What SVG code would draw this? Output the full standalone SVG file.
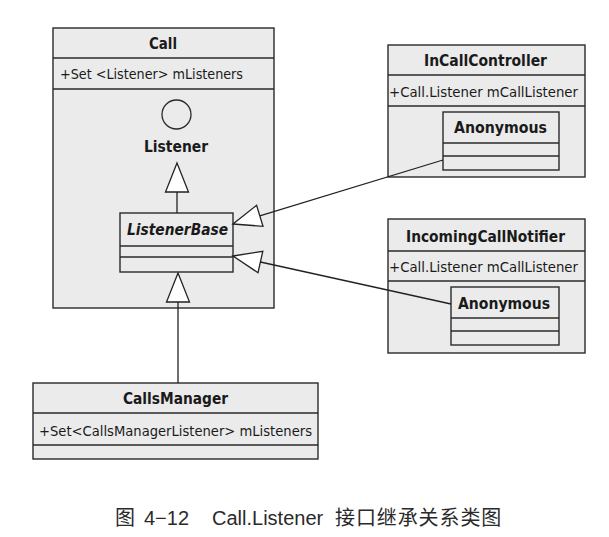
<svg xmlns="http://www.w3.org/2000/svg" width="609" height="537" viewBox="0 0 609 537">
<style>
.box{fill:#ebebeb;stroke:#2a2a2a;stroke-width:1.4}
.div{stroke:#2a2a2a;stroke-width:1.4;fill:none}
.t{font-family:"DejaVu Sans Condensed","DejaVu Sans",sans-serif;font-weight:bold;font-size:16px;fill:#1a1a1a}
.a{font-family:"DejaVu Sans Condensed","DejaVu Sans",sans-serif;font-size:14.5px;fill:#1a1a1a}
.ln{stroke:#222;stroke-width:1.3;fill:none}
.tri{fill:#fff;stroke:#222;stroke-width:1.3}
.cap{font-family:"Liberation Sans","Noto Sans CJK SC",sans-serif;font-size:20px;fill:#2a2a2a}
</style>
<rect width="609" height="537" fill="#fff"/>
<g id="Call">
<rect class="box" x="53" y="28" width="221" height="280"/>
<line class="div" x1="53" y1="58" x2="274" y2="58"/>
<line class="div" x1="53" y1="89" x2="274" y2="89"/>
<text class="t" x="149" y="49" textLength="28" lengthAdjust="spacingAndGlyphs">Call</text>
<text class="a" x="60" y="79" textLength="183" lengthAdjust="spacingAndGlyphs">+Set &lt;Listener&gt; mListeners</text>
</g>
<g id="Listener">
<circle cx="176.5" cy="114.5" r="14.5" fill="none" stroke="#2a2a2a" stroke-width="1.3"/>
<text class="t" x="144" y="152" textLength="64" lengthAdjust="spacingAndGlyphs">Listener</text>
</g>
<g id="ListenerBase">
<rect class="box" x="120" y="213" width="113" height="59"/>
<line class="div" x1="120" y1="246" x2="233" y2="246"/>
<line class="div" x1="120" y1="257" x2="233" y2="257"/>
<text class="t" x="127" y="235" font-style="italic" textLength="101" lengthAdjust="spacingAndGlyphs">ListenerBase</text>
</g>
<g id="InCallController">
<rect class="box" x="388" y="45" width="197" height="132"/>
<line class="div" x1="388" y1="75" x2="585" y2="75"/>
<line class="div" x1="388" y1="106" x2="585" y2="106"/>
<text class="t" x="424" y="66" textLength="123" lengthAdjust="spacingAndGlyphs">InCallController</text>
<text class="a" x="389" y="97" textLength="189" lengthAdjust="spacingAndGlyphs">+Call.Listener mCallListener</text>
</g>
<g id="Anonymous1">
<rect class="box" x="443" y="112" width="116" height="58"/>
<line class="div" x1="443" y1="143" x2="559" y2="143"/>
<line class="div" x1="443" y1="156" x2="559" y2="156"/>
<text class="t" x="454" y="133" textLength="93" lengthAdjust="spacingAndGlyphs">Anonymous</text>
</g>
<g id="IncomingCallNotifier">
<rect class="box" x="388" y="219" width="197" height="134"/>
<line class="div" x1="388" y1="251" x2="585" y2="251"/>
<line class="div" x1="388" y1="281" x2="585" y2="281"/>
<text class="t" x="406" y="242" textLength="159" lengthAdjust="spacingAndGlyphs">IncomingCallNotifier</text>
<text class="a" x="389" y="272" textLength="189" lengthAdjust="spacingAndGlyphs">+Call.Listener mCallListener</text>
</g>
<g id="Anonymous2">
<rect class="box" x="451" y="287" width="108" height="58"/>
<line class="div" x1="451" y1="318" x2="559" y2="318"/>
<line class="div" x1="451" y1="331" x2="559" y2="331"/>
<text class="t" x="458" y="309" textLength="92" lengthAdjust="spacingAndGlyphs">Anonymous</text>
</g>
<g id="CallsManager">
<rect class="box" x="33" y="383" width="285" height="76"/>
<line class="div" x1="33" y1="413" x2="318" y2="413"/>
<line class="div" x1="33" y1="445" x2="318" y2="445"/>
<text class="t" x="123" y="404" textLength="105" lengthAdjust="spacingAndGlyphs">CallsManager</text>
<text class="a" x="39" y="436" textLength="273" lengthAdjust="spacingAndGlyphs">+Set&lt;CallsManagerListener&gt; mListeners</text>
</g>
<g id="connectors">
<line class="ln" x1="177" y1="192" x2="177" y2="213"/>
<polygon class="tri" points="177,163 165.5,192 188.5,192"/>
<line class="ln" x1="178" y1="302" x2="178" y2="383"/>
<polygon class="tri" points="178,273 166.5,302 189.5,302"/>
<line class="ln" x1="259.8" y1="215.8" x2="443" y2="160"/>
<polygon class="tri" points="233,224 263,226.3 256.6,205.3"/>
<line class="ln" x1="260.4" y1="262" x2="451" y2="304"/>
<polygon class="tri" points="233,256 258,272.7 262.8,251.3"/>
</g>
<g id="caption">
<text class="cap" y="525"><tspan x="115">图</tspan><tspan x="144">4−12</tspan><tspan x="212">Call.Listener</tspan><tspan x="335" letter-spacing="0.9">接口继承关系类图</tspan></text>
</g>
</svg>
